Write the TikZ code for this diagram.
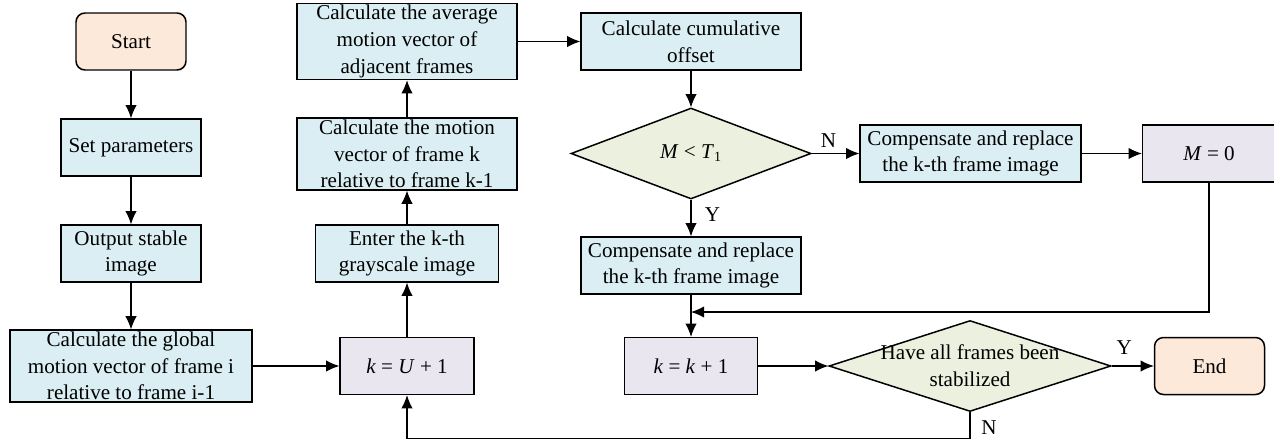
\documentclass[tikz,border=0pt]{standalone}
\usepackage{fontspec}
\setmainfont{Liberation Serif}
\usetikzlibrary{arrows.meta,shapes.geometric}
\definecolor{procblue}{HTML}{DAEEF3}
\definecolor{termorange}{HTML}{FDE9D9}
\definecolor{decgreen}{HTML}{EBF1DE}
\definecolor{varpurple}{HTML}{EAE6EF}

\begin{document}
\begin{tikzpicture}[
    font=\fontsize{12}{15.2}\selectfont,
    >={Latex[length=7.5pt,width=6.5pt]},
    every path/.style={line width=0.6pt},
    proc/.style={draw, line width=0.85pt, fill=procblue, minimum width=#1, minimum height=1.14cm, align=center, inner sep=1pt},
    var/.style={draw, line width=0.85pt, fill=varpurple, minimum width=#1, minimum height=1.14cm, inner sep=1pt},
    term/.style={draw, line width=0.85pt, fill=termorange, rounded corners=0.18cm, minimum width=2.2cm, minimum height=1.14cm},
    decision/.style={diamond, draw, line width=0.85pt, fill=decgreen, minimum width=#1, minimum height=1.82cm, inner sep=0pt}
  ]

                  \useasboundingbox (0,0) rectangle (25.48,8.82);

                  \node[term] (start) at (2.62,7.99) {Start};
                  \node[proc=2.8cm] (setp) at (2.62,5.87) {Set parameters};
                  \node[proc=2.8cm] (outp) at (2.62,3.75) {Output stable\\image};
                  \node[proc=4.84cm, minimum height=1.38cm] (glob) at (2.62,1.5) {Calculate the global\\motion vector of frame i\\relative to frame i-1};

                  \node[var=2.68cm] (ku) at (8.14,1.5) {\textit{k} = \textit{U} + 1};
                  \node[proc=3.66cm] (enter) at (8.14,3.75) {Enter the k-th\\grayscale image};
                  \node[proc=4.4cm, minimum height=1.36cm] (motk) at (8.14,5.74) {Calculate the motion\\vector of frame k\\relative to frame k-1};
                  \node[proc=4.4cm, minimum height=1.38cm] (avg) at (8.14,7.99) {Calculate the average\\motion vector of\\adjacent frames};

                  \node[proc=4.4cm] (cum) at (13.82,7.99) {Calculate cumulative\\offset};
                  \node[decision=4.8cm] (d1) at (13.82,5.75) {\textit{M} < \textit{T}\textsubscript{1}};
                  \node[proc=4.4cm] (comp1) at (13.82,3.51) {Compensate and replace\\the k-th frame image};
                  \node[var=2.66cm] (kk) at (13.82,1.5) {\textit{k} = \textit{k} + 1};

                  \node[proc=4.42cm] (comp2) at (19.41,5.75) {Compensate and replace\\the k-th frame image};
                  \node[decision=5.64cm] (d2) at (19.4,1.5) {};
                  \node[align=center] (d2txt) at (d2) {Have all frames been\\stabilized};

                  \node[var=2.66cm] (m0) at (24.18,5.75) {\textit{M} = 0};
                  \node[term] (endn) at (24.19,1.5) {End};

                  \coordinate (merge) at (13.82,2.58);
                  \coordinate (loopr) at (19.4,0.05);

                  \draw[->] (start) -- (setp);
                  \draw[->] (setp) -- (outp);
                  \draw[->] (outp) -- (glob);
                  \draw[->] (glob) -- (ku);
                  \draw[->] (ku) -- (enter);
                  \draw[->] (enter) -- (motk);
                  \draw[->] (motk) -- (avg);
                  \draw[->] (avg) -- (cum);
                  \draw[->] (cum) -- (d1);
                  \draw[->] (d1) -- node[pos=0.35, above] {N} (comp2);
                  \draw[->] (comp2) -- (m0);
                  \draw[->] (d1) -- node[pos=0.4, right, xshift=0.15cm] {Y} (comp1);
                  \draw[->] (comp1) -- (kk);
                  \draw[->] (m0.south) |- (merge);
                  \draw[->] (kk) -- (d2);
                  \draw[->] (d2) -- node[pos=0.3, above, yshift=0.1cm] {Y} (endn);
                  \draw[->] (d2.south) -- node[pos=0.6, right, xshift=0.1cm] {N} (loopr) -| (ku.south);

\end{tikzpicture}
\end{document}
